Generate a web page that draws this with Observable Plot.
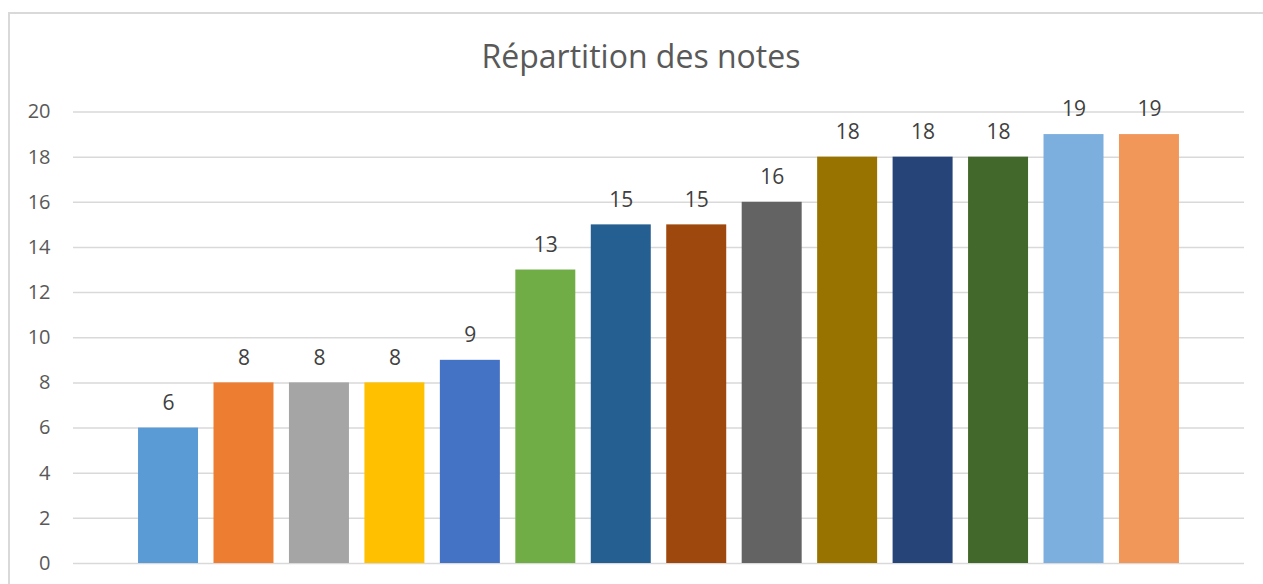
<!DOCTYPE html>
<html>
<head>
<meta charset="utf-8">
<script src="https://cdn.jsdelivr.net/npm/d3@7"></script>
<script src="https://cdn.jsdelivr.net/npm/@observablehq/plot@0.6"></script>
<style>
  html, body { margin: 0; padding: 0; background: #fff; overflow: hidden; }
  #frame { position: absolute; left: 8px; top: 12px; width: 1300px; height: 700px; border: 2px solid #d9d9d9; box-sizing: border-box; }
  #title { position: absolute; left: 0; width: 1282px; top: 34px; text-align: center; font-family: "Open Sans", sans-serif; font-size: 32px; color: #595959; }
  #chart { position: absolute; left: 0; top: 0; }
</style>
</head>
<body>
<div id="frame"></div>
<div id="title">Répartition des notes</div>
<div id="chart"></div>
<script>
const categories = ["1","2","3","4","5","6","7","8","9","10","11","12","13","14"];
const values = [6, 8, 8, 8, 9, 13, 15, 15, 16, 18, 18, 18, 19, 19];
const colors = ["#5B9BD5","#ED7D31","#A5A5A5","#FFC000","#4472C4","#70AD47","#255E91","#9E480E","#636363","#997300","#264478","#43682B","#7CAFDD","#F1975A"];
const yTicks = [0, 2, 4, 6, 8, 10, 12, 14, 16, 18, 20];

const data = categories.map((c, i) => ({cat: c, value: values[i], color: colors[i]}));

const chart = Plot.plot({
  width: 1263,
  height: 584,
  marginLeft: 73,
  marginRight: 19,
  marginTop: 111.5,
  marginBottom: 21,
  style: { fontFamily: "Open Sans, sans-serif", fontSize: "20px", color: "#595959", background: "transparent" },
  x: { domain: categories, paddingInner: 0.205, paddingOuter: 0.862, round: false, axis: null },
  y: { domain: [0, 20], ticks: yTicks },
  marks: [
    Plot.gridY(yTicks, { stroke: "#d9d9d9", strokeOpacity: 1, strokeWidth: 1.5 }),
    Plot.axisY(yTicks, { tickSize: 0, tickPadding: 23, fill: "#595959", fontSize: 20, label: null }),
    Plot.barY(data, { x: "cat", y: "value", fill: "color" }),
    Plot.text(data, { x: "cat", y: "value", text: d => String(d.value), dy: -25, fill: "#404040", fontSize: 21, lineAnchor: "middle" })
  ]
});
document.getElementById("chart").appendChild(chart);
</script>
</body>
</html>
